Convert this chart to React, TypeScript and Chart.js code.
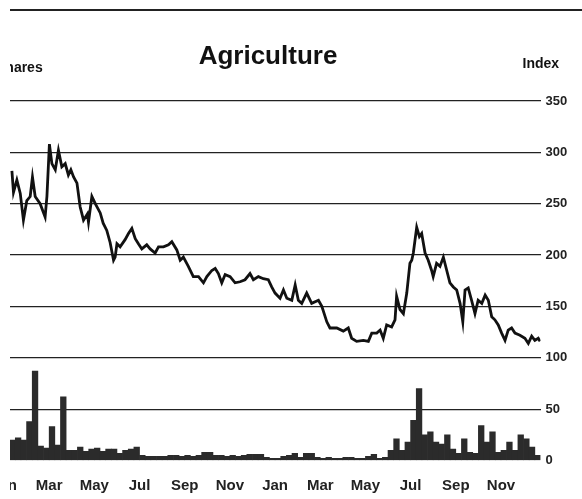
import React, { useEffect, useRef } from "react";
import { Chart, registerables } from "chart.js";

Chart.register(...registerables);

const titleText = "Agriculture";
const leftAxisTitle = "Shares";
const rightAxisTitle = "Index";

const xTickMonths = [0, 2, 4, 6, 8, 10, 12, 14, 16, 18, 20, 22];
const xTickLabels = ["Jan", "Mar", "May", "Jul", "Sep", "Nov", "Jan", "Mar", "May", "Jul", "Sep", "Nov"];
const yTicks = [0, 50, 100, 150, 200, 250, 300, 350];

// Index line: x in months from the first January, value of the index
const indexMonths = [
  0.35, 0.42, 0.57, 0.72, 0.86, 1.01, 1.16, 1.26, 1.38, 1.6, 1.82, 1.9, 2.01, 2.12, 2.27, 2.41, 2.56, 2.71, 2.85, 2.96,
  3.08, 3.23, 3.37, 3.52, 3.69, 3.74, 3.89, 4.04, 4.26, 4.39, 4.55, 4.7, 4.85, 4.92, 5.0, 5.14, 5.36, 5.51, 5.66, 5.81,
  5.95, 6.1, 6.32, 6.47, 6.69, 6.84, 7.06, 7.28, 7.43, 7.65, 7.8, 7.94, 8.16, 8.38, 8.61, 8.83, 8.98, 9.2, 9.35, 9.49,
  9.64, 9.79, 10.01, 10.23, 10.45, 10.67, 10.89, 11.04, 11.26, 11.48, 11.7, 11.85, 12.0, 12.22, 12.37, 12.52, 12.74,
  12.89, 13.03, 13.18, 13.4, 13.62, 13.92, 14.07, 14.29, 14.43, 14.73, 15.02, 15.24, 15.39, 15.61, 15.91, 16.13, 16.28,
  16.5, 16.65, 16.79, 16.94, 17.16, 17.31, 17.38, 17.53, 17.68, 17.83, 17.97, 18.05, 18.12, 18.27, 18.39, 18.49, 18.64,
  18.78, 18.93, 19.0, 19.15, 19.3, 19.45, 19.6, 19.74, 19.89, 20.04, 20.19, 20.31, 20.41, 20.55, 20.7, 20.85, 20.99,
  21.15, 21.3, 21.44, 21.59, 21.73, 21.88, 22.03, 22.18, 22.32, 22.47, 22.62, 22.84, 23.06, 23.21, 23.36, 23.5, 23.65,
  23.73,
];
const indexValues = [
  282, 261, 273, 260, 234, 253, 257, 276, 257, 250, 237, 257, 308, 289, 283, 302, 286, 289, 278, 283,
  276, 270, 247, 234, 240, 232, 257, 250, 241, 231, 224, 212, 195, 198, 211, 208, 215, 221, 226, 216,
  211, 206, 210, 206, 202, 208, 208, 210, 213, 205, 195, 198, 189, 179, 179, 173, 179, 185, 187, 182,
  173, 181, 179, 173, 174, 176, 182, 176, 179, 177, 176, 169, 163, 158, 166, 158, 156,
  171, 156, 153, 163, 153, 156, 150, 135, 129, 129, 126, 129, 119, 116, 117, 116, 124,
  124, 127, 119, 132, 130, 137, 160, 147, 143, 163, 192, 195, 202, 227, 218, 221, 202,
  195, 185, 179, 192, 189, 198, 185, 173, 169, 166, 153, 135, 166, 168, 156, 143, 156,
  153, 161, 156, 140, 137, 132, 124, 117, 127, 129, 124, 122, 119, 114, 121, 117, 119,
  116,
];

// Weekly share volume (one bar per quarter month)
const volumeValues = [
  20, 20, 22, 20, 38, 87, 14, 12, 33, 15, 62, 10, 10, 13, 9, 11, 12, 9, 11, 11,
  7, 10, 11, 13, 5, 4, 4, 4, 4, 5, 5, 4, 5, 4, 5, 8, 8, 5, 5, 4,
  5, 4, 5, 6, 6, 6, 3, 2, 2, 4, 5, 7, 3, 7, 7, 3, 2, 3, 2, 2,
  3, 3, 2, 2, 4, 6, 2, 3, 10, 21, 10, 18, 39, 70, 25, 28, 18, 16, 25, 11,
  7, 21, 8, 7, 34, 18, 28, 8, 10, 18, 10, 25, 21, 13, 5,
];

const FONT = '"Liberation Sans", Arial, Helvetica, sans-serif';

const textPlugin = {
  id: "extraTexts",
  afterDraw(chart: any) {
    const ctx = chart.ctx as CanvasRenderingContext2D;
    const area = chart.chartArea;
    ctx.save();
    ctx.fillStyle = "#111";
    ctx.font = `bold 26px ${FONT}`;
    ctx.textAlign = "center";
    ctx.textBaseline = "alphabetic";
    ctx.fillText(titleText, 298, 64);
    ctx.font = `bold 14px ${FONT}`;
    ctx.textAlign = "left";
    ctx.fillText(leftAxisTitle, 26, 72);
    ctx.fillText(rightAxisTitle, area.right - 18, 68);
    ctx.strokeStyle = "#222";
    ctx.lineWidth = 2;
    ctx.beginPath();
    ctx.moveTo(0, 10);
    ctx.lineTo(chart.width, 10);
    ctx.stroke();
    ctx.restore();
  },
};

export default function App() {
  const ref = useRef<HTMLCanvasElement | null>(null);

  useEffect(() => {
    if (!ref.current) return;
    const lineData = indexMonths.map((m, i) => ({ x: m, y: indexValues[i] }));
    const barData = volumeValues.map((v, i) => ({ x: (i + 0.5) / 4, y: v }));
    const chart = new Chart(ref.current, {
      type: "bar",
      data: {
        datasets: [
          {
            type: "line",
            label: "Index",
            data: lineData,
            borderColor: "#111",
            borderWidth: 2.8,
            pointRadius: 0,
            tension: 0,
            fill: false,
          } as any,
          {
            type: "bar",
            label: "Shares",
            data: barData,
            backgroundColor: "#2b2b2b",
            borderWidth: 0,
            barPercentage: 1,
            categoryPercentage: 1,
          } as any,
        ],
      },
      options: {
        animation: false,
        responsive: true,
        maintainAspectRatio: false,
        layout: { padding: { left: 34, right: 0, top: 101, bottom: 0 } },
        plugins: { legend: { display: false }, tooltip: { enabled: false }, title: { display: false } },
        scales: {
          x: {
            type: "linear",
            offset: false,
            min: 0,
            max: 23.75,
            grid: { display: false, drawTicks: false, offset: false },
            border: { display: false },
            afterBuildTicks: (scale: any) => {
              scale.ticks = xTickMonths.map((v) => ({ value: v }));
            },
            afterFit: (scale: any) => {
              scale.height = 38.5;
            },
            ticks: {
              autoSkip: false,
              maxRotation: 0,
              padding: 16,
              color: "#222",
              font: { family: FONT, size: 15, weight: "bold" },
              callback: (_v: any, i: number) => xTickLabels[i],
            },
          },
          y: {
            type: "linear",
            position: "right",
            min: 0,
            max: 350,
            grid: {
              drawTicks: false,
              color: (c: any) => (c.tick && c.tick.value === 0 ? "rgba(0,0,0,0)" : "#222"),
              lineWidth: 1.2,
            },
            border: { display: false },
            afterBuildTicks: (scale: any) => {
              scale.ticks = yTicks.map((v) => ({ value: v }));
            },
            afterFit: (scale: any) => {
              scale.width = 41.5;
            },
            ticks: {
              padding: 5,
              color: "#222",
              font: { family: FONT, size: 13, weight: "bold" },
            },
          },
        },
      },
      plugins: [textPlugin],
    } as any);
    return () => chart.destroy();
  }, []);

  return (
    <div
      style={{
        position: "fixed",
        left: 10,
        top: 0,
        width: 572,
        height: 499,
        overflow: "hidden",
        background: "#fff",
      }}
    >
      <div style={{ position: "absolute", left: -40, top: 0, width: 612, height: 499 }}>
        <canvas ref={ref} />
      </div>
    </div>
  );
}
